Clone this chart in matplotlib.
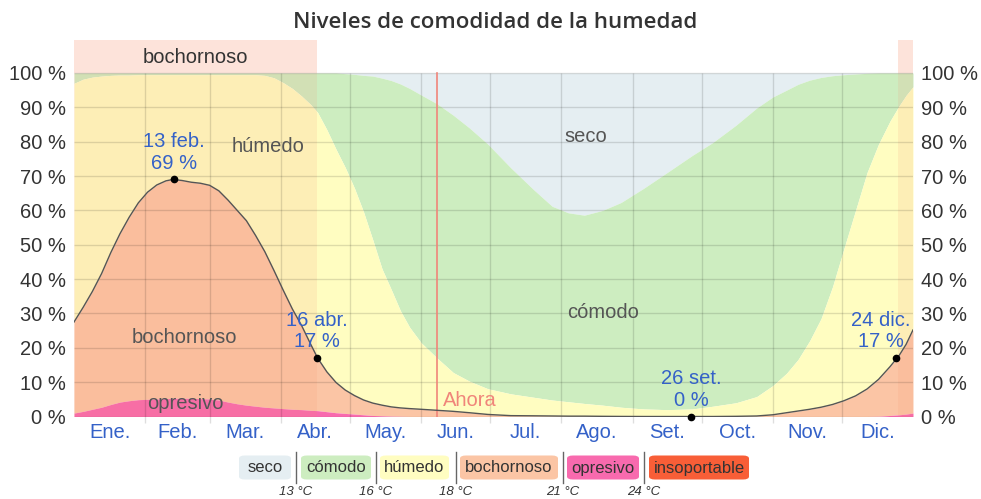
import matplotlib.pyplot as plt
import numpy as np
from matplotlib.patches import FancyBboxPatch
from matplotlib.lines import Line2D

plt.rcParams['font.family'] = ['Liberation Sans', 'DejaVu Sans']

# dias del año (0 = 1 ene.)
dias = [0, 4, 8, 12, 16, 20, 24, 28, 32, 36,
        40, 43, 47, 51, 55, 59, 63, 67, 71, 75,
        79, 83, 87, 91, 95, 99, 103, 106, 110, 114,
        118, 122, 126, 130, 134, 138, 142, 146, 151, 158,
        165, 172, 180, 190, 200, 208, 215, 222, 230, 238,
        248, 258, 269, 278, 288, 297, 304, 310, 315, 320,
        325, 330, 335, 340, 345, 350, 355, 359, 362, 365]

# limites acumulados (%)
tope_opresivo = [1.0, 1.5, 2.1, 2.7, 3.5, 4.2, 4.6, 4.9, 5.0, 5.1,
                 5.2, 5.3, 5.3, 5.3, 5.2, 5.1, 4.8, 4.2, 3.7, 3.3,
                 3.0, 2.7, 2.5, 2.3, 2.1, 2.0, 1.8, 1.7, 1.4, 1.1,
                 0.9, 0.7, 0.5, 0.3, 0.2, 0.1, 0.05, 0, 0, 0,
                 0, 0, 0, 0, 0, 0, 0, 0, 0, 0,
                 0, 0, 0, 0, 0, 0, 0, 0, 0, 0,
                 0, 0, 0, 0, 0, 0.05, 0.3, 0.5, 0.7, 1.0]
tope_bochornoso = [27.5, 31.8, 36.4, 41.6, 47.7, 53.2, 58.0, 62.2, 65.3, 67.4,
                   68.6, 69.0, 68.7, 68.2, 67.9, 67.3, 65.7, 63.0, 60.0, 57.0,
                   52.7, 48.0, 42.5, 36.8, 31.3, 26.5, 21.0, 17.0, 13.0, 9.9,
                   7.7, 6.1, 4.8, 3.9, 3.3, 2.8, 2.5, 2.3, 2.1, 1.8,
                   1.5, 1.1, 0.6, 0.25, 0.2, 0.15, 0.1, 0.1, 0.05, 0.02,
                   0, 0, 0, 0, 0.05, 0.15, 0.5, 1.1, 1.6, 2.1,
                   2.7, 3.5, 4.6, 6.0, 8.0, 10.8, 14.5, 17.8, 21.0, 25.2]
tope_humedo = [97, 98.2, 98.8, 99.1, 99.3, 99.4, 99.4, 99.5, 99.5, 99.5,
               99.5, 99.5, 99.5, 99.5, 99.5, 99.5, 99.5, 99.5, 99.5, 99.5,
               99.5, 99.3, 98.6, 97.2, 95.5, 93.3, 90.8, 88.5, 83.5, 77.8,
               72.5, 66.5, 59.5, 51.4, 43, 37, 30.8, 26, 21.5, 17,
               12.8, 10.3, 8.1, 6.6, 5.6, 4.8, 4.3, 3.8, 3.3, 2.7,
               2.2, 2.0, 2.2, 3.0, 4.0, 5.8, 9.0, 12.6, 16.6, 22,
               28.5, 37.8, 49, 60, 71, 79.3, 86, 90.5, 93.5, 96]
tope_comodo = [100, 100, 100, 100, 100, 100, 100, 100, 100, 100,
               100, 100, 100, 100, 100, 100, 100, 100, 100, 100,
               100, 100, 100, 100, 100, 100, 100, 100, 100, 100,
               99.8, 99.6, 99.3, 99.1, 98.5, 97.8, 96.8, 95.5, 93.6, 91,
               87.7, 84, 79.3, 72.4, 66, 61.2, 59.3, 58.6, 60, 62.3,
               66.5, 71, 76, 79.8, 84.8, 89.8, 93, 95, 96.7, 97.9,
               98.7, 99.2, 99.5, 99.7, 99.9, 100, 100, 100, 100, 100]

meses = ['Ene.', 'Feb.', 'Mar.', 'Abr.', 'May.', 'Jun.', 'Jul.', 'Ago.', 'Set.',
         'Oct.', 'Nov.', 'Dic.']
dias_mes = [31, 28, 31, 30, 31, 30, 31, 31, 30, 31, 30, 31]

notas_dia = [43.5, 105.5, 268.5, 357.5]
notas_val = [69, 17, 0, 17]
notas_txt = ['13 feb.\n69 %', '16 abr.\n17 %', '26 set.\n0 %', '24 dic.\n17 %']

temporada = [(0, 105.7), (358.4, 365)]
ahora = 158

categorias = ['seco', 'cómodo', 'húmedo', 'bochornoso', 'opresivo', 'insoportable']
colores = ['#e5eef2', '#cdedc0', '#fffdc1', '#fbc5a5', '#f86aae', '#f85e37']
limites_temp = ['13 °C', '16 °C', '18 °C', '21 °C', '24 °C']

W, H = 981, 499
fig = plt.figure(figsize=(W / 100, H / 100), dpi=100)
ax = fig.add_axes([74 / W, (H - 416.5) / H, 839 / W, 376.5 / H])
ymax = 109.6

# areas apiladas
ax.fill_between(dias, tope_comodo, 100, color=colores[0], lw=0, zorder=1)
ax.fill_between(dias, tope_humedo, tope_comodo, color=colores[1], lw=0, zorder=1)
ax.fill_between(dias, tope_bochornoso, tope_humedo, color=colores[2], lw=0, zorder=1)
ax.fill_between(dias, tope_opresivo, tope_bochornoso, color=colores[3], lw=0, zorder=1)
ax.fill_between(dias, 0, tope_opresivo, color=colores[4], lw=0, zorder=1)

# temporada bochornosa
for a, b in temporada:
    ax.fill_between([a, b], 100, ymax, color='#fde3da', lw=0, zorder=1)
    ax.fill_between([a, b], 0, 100, color='#f5906c', alpha=0.13, lw=0, zorder=2)
ax.text(np.mean(temporada[0]), 104.6, 'bochornoso', ha='center', va='center',
        fontsize=14.5, color='#333333', zorder=6)

# rejilla
bordes = np.cumsum([0] + dias_mes)
centros = bordes[:-1] + np.array(dias_mes) / 2
ax.hlines(range(0, 101, 10), 0, 365, color='black', alpha=0.13, lw=1, zorder=3)
ax.vlines(bordes[1:-1], -2, 100, color='black', alpha=0.13, lw=1, zorder=3, clip_on=False)

ax.axvline(ahora, ymin=0, ymax=100 / ymax, color='#f0857a', lw=1.2, zorder=4)
ax.text(ahora + 2.5, 4.8, 'Ahora', color='#f0857a', fontsize=14.5, va='center', zorder=6)

ax.plot(dias, tope_bochornoso, color='#555555', lw=1, zorder=5)

# etiquetas de categorias
etiq = [('húmedo', 84.4, 78.7), ('seco', 222.7, 81.4), ('cómodo', 230, 30.4),
        ('bochornoso', 47.9, 22.9), ('opresivo', 48.3, 3.9)]
for t, x, y in etiq:
    ax.text(x, y, t, ha='center', va='center', fontsize=14.5, color='#555555', zorder=6)

# anotaciones
for i, (d, v, t) in enumerate(zip(notas_dia, notas_val, notas_txt)):
    ax.plot(d, v, 'o', color='black', ms=4.5, zorder=7, clip_on=False)
    dx = -11 if i == len(notas_dia) - 1 else 0
    ax.annotate(t, (d, v), xytext=(dx, 5), textcoords='offset points', ha='center',
                va='bottom', fontsize=14.5, color='#3461c8', zorder=7,
                linespacing=1.15)

ax.set_xlim(0, 365)
ax.set_ylim(0, ymax)
ax.set_xticks(centros)
ax.set_xticklabels(meses)
ax.set_yticks(range(0, 101, 10))
ax.set_yticklabels([f'{v} %' for v in range(0, 101, 10)])
ax.tick_params(axis='x', length=0, pad=5, labelsize=14.5, labelcolor='#3461c8')
ax.tick_params(axis='y', length=0, pad=6, labelsize=14.5, labelcolor='#333333',
               labelright=True)
for s in ax.spines.values():
    s.set_visible(False)

fig.text(495 / W, 1 - 22 / H, 'Niveles de comodidad de la humedad', ha='center',
         va='center', fontsize=16, fontweight='semibold', color='#333333',
         family=['Open Sans', 'DejaVu Sans'])

# leyenda
cajas = [(239, 291), (301, 371), (380, 449), (460, 558), (567, 639), (649, 749)]
separadores = [296, 376, 455.5, 563, 644]
for (x0, x1), c, t in zip(cajas, colores, categorias):
    fig.patches.append(FancyBboxPatch((x0 / W, 1 - 479.5 / H), (x1 - x0) / W, 24 / H,
                                      boxstyle='round,pad=0,rounding_size=0.006',
                                      transform=fig.transFigure, fc=c, ec='none'))
    fig.text((x0 + x1) / 2 / W, 1 - 468 / H, t, ha='center', va='center',
             fontsize=12, color='#333333')
for x, t in zip(separadores, limites_temp):
    fig.lines.append(Line2D([x / W, x / W], [1 - 452 / H, 1 - 483 / H],
                            transform=fig.transFigure, color='#666666', lw=1))
    fig.text(x / W, 1 - 492 / H, t, ha='center', va='center', fontsize=9.5,
             style='italic', color='#333333')

fig.savefig('out.png', dpi=100)
